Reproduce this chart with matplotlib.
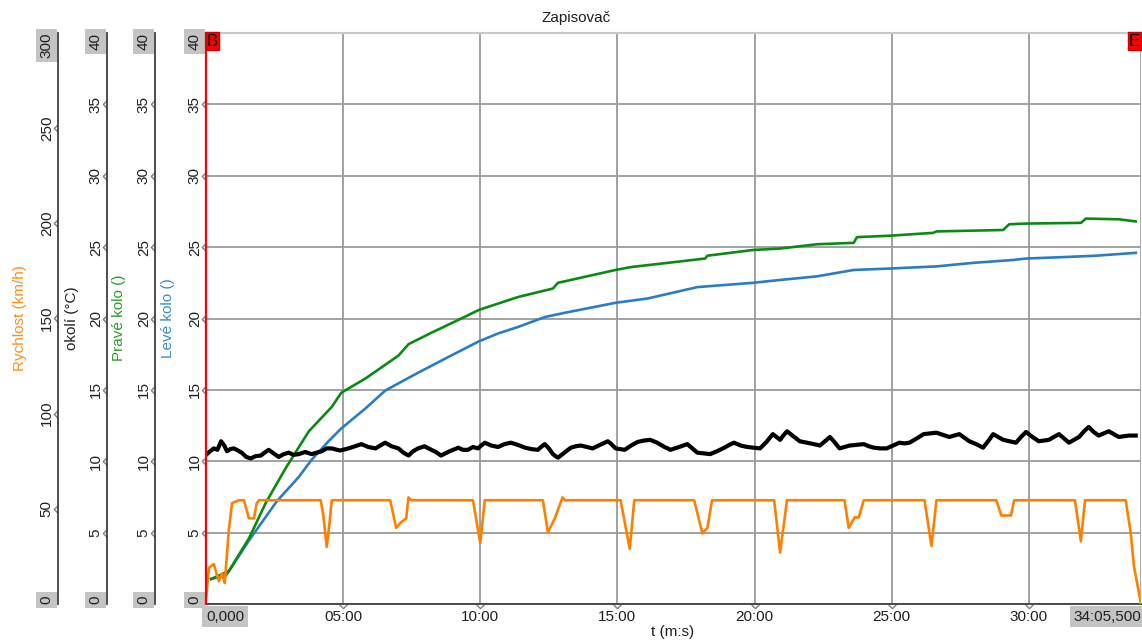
import numpy as np
import matplotlib.pyplot as plt
from matplotlib.path import Path
import matplotlib.transforms as mtransforms

plt.rcParams['font.family'] = ['Liberation Sans', 'DejaVu Sans']

# cas v sekundach, konec zaznamu 34:05,500
t_end = 2045.5

# Rychlost (km/h)
rych_t = [0, 6.5, 17, 28, 35, 41, 50, 57, 72, 83, 94, 105, 111, 116, 251, 257, 264, 270, 275,
          403, 416, 427, 438, 443, 449, 584, 600, 610, 737, 748, 763, 780, 785, 907, 927, 937,
          1068, 1086, 1097, 1107, 1243, 1256, 1271, 1397, 1406, 1419, 1428, 1439, 1572, 1587, 1598,
          1729, 1740, 1761, 1768, 1901, 1914, 1923, 2012, 2023, 2030, 2045.5]
rych_v = [3, 19, 21, 12, 16, 11, 39, 53, 54.5, 54.5, 45, 45, 53, 54.5, 54.5, 46, 30, 42, 54.5,
          54.5, 40, 43, 45, 56, 54.5, 54.5, 32, 54.5, 54.5, 37.5, 45, 56, 54.5, 54.5, 29, 54.5,
          54.5, 37, 40, 54.5, 54.5, 27, 54.5, 54.5, 40, 45.5, 45.5, 54.5, 54.5, 30.5, 54.5,
          54.5, 46.5, 46.5, 54.5, 54.5, 33, 54.5, 54.5, 37.5, 20, 0]

# okoli (°C)
okoli_t = [2, 9, 17, 25, 33, 40, 46, 53, 61, 70, 78, 88, 98, 108, 120, 128, 137, 148, 159, 170,
           181, 192, 203, 217, 231, 242, 253, 264, 275, 293, 312, 326, 340, 355, 371, 381, 392,
           406, 421, 432, 443, 453, 464, 478, 493, 503, 514, 533, 552, 562, 573, 584, 595, 602,
           610, 624, 639, 653, 667, 682, 698, 712, 726, 733, 741, 750, 759, 765, 770, 784, 798,
           809, 820, 833, 846, 862, 879, 887, 896, 906, 916, 930, 944, 958, 972, 987, 1003, 1010,
           1016, 1035, 1053, 1064, 1075, 1089, 1103, 1118, 1134, 1145, 1155, 1170, 1184, 1198,
           1212, 1226, 1240, 1248, 1256, 1263, 1271, 1285, 1299, 1315, 1330, 1337, 1343, 1354,
           1365, 1376, 1386, 1397, 1408, 1424, 1439, 1450, 1461, 1475, 1489, 1503, 1517, 1528,
           1539, 1555, 1570, 1584, 1598, 1612, 1626, 1637, 1648, 1659, 1670, 1685, 1700, 1711,
           1722, 1733, 1744, 1758, 1772, 1783, 1794, 1808, 1822, 1833, 1844, 1855, 1866, 1877,
           1888, 1899, 1910, 1921, 1931, 1942, 1953, 1964, 1975, 1986, 1997, 2008, 2019, 2034]
okoli_v = [10.5, 10.7, 10.9, 10.8, 11.4, 11.1, 10.7, 10.85, 10.9, 10.75, 10.6, 10.3, 10.2, 10.35,
           10.4, 10.6, 10.8, 10.55, 10.3, 10.5, 10.6, 10.45, 10.5, 10.65, 10.5, 10.6, 10.7, 10.9,
           10.9, 10.75, 10.9, 11.05, 11.2, 11.0, 10.9, 11.1, 11.3, 11.05, 10.9, 10.6, 10.4, 10.7,
           10.9, 11.05, 10.8, 10.65, 10.4, 10.7, 10.95, 10.8, 10.8, 11.0, 10.9, 11.1, 11.3, 11.1,
           11.0, 11.2, 11.3, 11.15, 10.95, 10.85, 10.8, 11.0, 11.2, 10.9, 10.5, 10.35, 10.25,
           10.6, 10.95, 11.05, 11.1, 11.0, 10.9, 11.15, 11.4, 11.2, 10.9, 10.85, 10.8, 11.1,
           11.35, 11.45, 11.5, 11.3, 11.0, 10.9, 10.8, 11.0, 11.2, 10.9, 10.6, 10.55, 10.5,
           10.7, 10.95, 11.15, 11.3, 11.1, 11.0, 10.95, 10.9, 11.35, 11.9, 11.7, 11.5, 11.8,
           12.1, 11.75, 11.4, 11.3, 11.2, 11.15, 11.1, 11.4, 11.7, 11.3, 10.9, 11.0, 11.1,
           11.15, 11.2, 11.05, 10.95, 10.9, 10.9, 11.1, 11.3, 11.25, 11.3, 11.6, 11.9, 11.95,
           12.0, 11.85, 11.7, 11.8, 11.9, 11.65, 11.4, 11.2, 10.95, 11.4, 11.9, 11.7, 11.5,
           11.4, 11.3, 11.7, 12.05, 11.7, 11.4, 11.45, 11.5, 11.7, 11.9, 11.6, 11.3, 11.5,
           11.7, 12.1, 12.4, 12.05, 11.8, 11.95, 12.1, 11.9, 11.7, 11.75, 11.8, 11.8]

# Prave kolo ()
prave_t = [11, 50, 94, 131, 174, 225, 275, 296, 349, 421, 443, 493, 552, 597, 682, 759, 770,
           896, 929, 1092, 1097, 1197, 1256, 1336, 1417, 1424, 1496, 1591, 1598, 1744, 1757,
           1794, 1914, 1925, 1997, 2034]
prave_v = [1.75, 2.3, 4.6, 7.1, 9.5, 12.1, 13.8, 14.8, 15.8, 17.4, 18.2, 19.0, 19.9, 20.6, 21.5,
           22.1, 22.5, 23.4, 23.6, 24.2, 24.4, 24.8, 24.9, 25.2, 25.3, 25.7, 25.8, 26.0, 26.1,
           26.2, 26.6, 26.65, 26.7, 27.0, 26.95, 26.8]

# Leve kolo ()
leve_t = [11, 44, 94, 155, 203, 231, 268, 296, 349, 392, 458, 530, 597, 639, 682, 741, 785, 896,
          966, 1075, 1197, 1256, 1336, 1417, 1496, 1598, 1679, 1766, 1794, 1875, 1947, 2034]
leve_v = [1.75, 2.0, 4.45, 7.2, 8.9, 10.1, 11.4, 12.3, 13.7, 14.95, 16.1, 17.3, 18.4, 18.95,
          19.4, 20.1, 20.4, 21.1, 21.4, 22.2, 22.5, 22.7, 22.95, 23.4, 23.5, 23.65, 23.9, 24.1,
          24.2, 24.3, 24.4, 24.6]

x_ticks = [0, 300, 600, 900, 1200, 1500, 1800, t_end]
x_labels = ['0,000', '05:00', '10:00', '15:00', '20:00', '25:00', '30:00', '34:05,500']
deg_ticks = [0, 5, 10, 15, 20, 25, 30, 35, 40]
rych_ticks = [0, 50, 100, 150, 200, 250, 300]

W, H = 1142, 643
fig = plt.figure(figsize=(W / 100, H / 100), dpi=100)
L, R, T, B = 206, 1141, 33, 604
ax = fig.add_axes([L / W, 1 - B / H, (R - L) / W, (B - T) / H])

spine_col = '#404040'
tick_col = '#808080'
box = dict(facecolor='#c4c4c4', edgecolor='none', pad=2.5)
chev_y = Path([[0, 1], [-1, 0], [0, -1]])
chev_x = Path([[-1, 0], [0, -1], [1, 0]])


def setup_y(a, pos, ticks, lim):
    # spine position first: set_position resets the ticks
    a.spines['left'].set_position(('axes', pos))
    a.spines['left'].set_color(spine_col)
    a.spines['left'].set_linewidth(1.3)
    a.set_ylim(*lim)
    a.set_yticks(ticks)
    a.set_yticklabels([str(v) for v in ticks], fontsize=11, color='#202020')
    a.tick_params(axis='y', length=0, pad=3, labelrotation=90)
    labs = a.get_yticklabels()
    for lab in labs:
        lab.set_va('center')
    labs[0].set_va('bottom')
    labs[-1].set_va('top')
    labs[0].set_bbox(box)
    labs[-1].set_bbox(box)
    tr = mtransforms.blended_transform_factory(a.transAxes, a.transData)
    a.plot([pos] * len(ticks[1:-1]), ticks[1:-1], ls='none', marker=chev_y, ms=6,
           mfc='none', mec=tick_col, mew=1, transform=tr, clip_on=False)


# hlavni osa - Leve kolo
ax.set_xlim(0, t_end)
ax.set_xticks(x_ticks)
xl = ax.set_xticklabels(x_labels, fontsize=11, color='#202020')
xl[0].set_ha('left')
xl[-1].set_ha('right')
xl[0].set_bbox(box)
xl[-1].set_bbox(box)
ax.tick_params(axis='x', length=0, pad=4)
ax.grid(True, color='#9a9a9a', lw=1.3)
ax.spines['top'].set_color('#c8c8c8')
ax.spines['top'].set_linewidth(1.5)
ax.spines['right'].set_visible(False)
ax.spines['bottom'].set_color(spine_col)
ax.spines['bottom'].set_linewidth(1.3)
trx = mtransforms.blended_transform_factory(ax.transData, ax.transAxes)
ax.plot(x_ticks[1:-1], [0] * 6, ls='none', marker=chev_x, ms=6, mfc='none', mec=tick_col,
        mew=1, transform=trx, clip_on=False)

ax_p = ax.twinx()
ax_o = ax.twinx()
ax_r = ax.twinx()
for a in (ax_p, ax_o, ax_r):
    for s in ('top', 'right', 'bottom'):
        a.spines[s].set_visible(False)
    a.spines['left'].set_visible(True)
    a.yaxis.set_ticks_position('left')
    a.yaxis.set_label_position('left')

setup_y(ax, 0, deg_ticks, (0, 40))
setup_y(ax_p, (155 - L) / (R - L), deg_ticks, (0, 40))
setup_y(ax_o, (107 - L) / (R - L), deg_ticks, (0, 40))
setup_y(ax_r, (58 - L) / (R - L), rych_ticks, (0, 300))

ax.plot(leve_t, leve_v, color='#2a7dc4', lw=1.9)
ax_p.plot(prave_t, prave_v, color='#0b8a12', lw=1.9)
ax_o.plot(okoli_t, okoli_v, color='black', lw=3)
ax_r.plot(rych_t, rych_v, color='#ff8000', lw=1.9)

# kurzory B a E
ax_r.axvline(0, color='red', lw=1.6, clip_on=False)
ax_r.axvline(t_end, color='#f4c8c8', lw=1)
ax_r.text(0.001, 0.999, 'B', transform=ax.transAxes, ha='left', va='top', fontsize=12,
          bbox=dict(facecolor='#ff0000', edgecolor='#d00000', pad=0.8))
ax_r.text(0.999, 0.999, 'E', transform=ax.transAxes, ha='right', va='top', fontsize=12,
          bbox=dict(facecolor='#ff0000', edgecolor='#d00000', pad=0.8))

# popisky os
fig.text(20 / W, 1 - 318 / H, 'Rychlost (km/h)', rotation=90, ha='center', va='center',
         fontsize=11, color='#ff8c1a')
fig.text(72 / W, 1 - 318 / H, 'okolí (°C)', rotation=90, ha='center', va='center',
         fontsize=11, color='#202020')
fig.text(119 / W, 1 - 318 / H, 'Pravé kolo ()', rotation=90, ha='center', va='center',
         fontsize=11, color='#22a022')
fig.text(168 / W, 1 - 318 / H, 'Levé kolo ()', rotation=90, ha='center', va='center',
         fontsize=11, color='#3a8ad4')
fig.text(576 / W, 1 - 18 / H, 'Zapisovač', ha='center', va='center', fontsize=11,
         color='#202020')
fig.text(673 / W, 1 - 632 / H, 't (m:s)', ha='center', va='center', fontsize=11,
         color='#202020')

fig.savefig('out.png', dpi=100)
